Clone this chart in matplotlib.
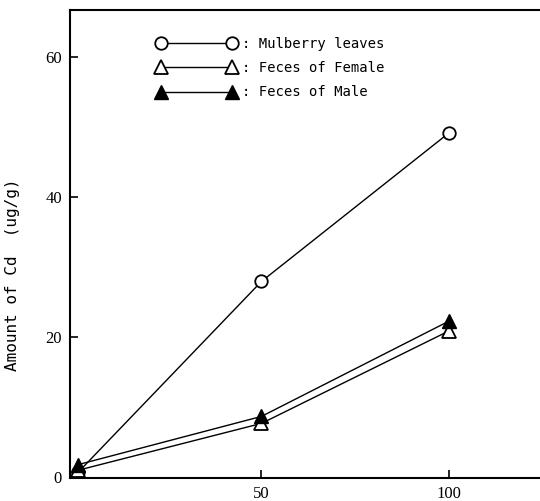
import matplotlib
matplotlib.use("Agg")
import matplotlib.pyplot as plt

dose = [1, 50, 100]
mulberry = [0.6, 27.9, 49.1]
feces_female = [0.9, 7.6, 20.8]
feces_male = [1.7, 8.6, 22.2]

labels = [": Mulberry leaves", ": Feces of Female", ": Feces of Male"]
yticks = [0, 20, 40, 60]
xticks = [50, 100]

fig = plt.figure(figsize=(5.4, 5.01), dpi=100)
ax = fig.add_axes([0.13, 0.046, 0.87, 0.934])

ax.plot(dose, mulberry, color="black", lw=1, marker="o", ms=9,
        mfc="white", mec="black", mew=1.3, label=labels[0])
ax.plot(dose, feces_female, color="black", lw=1, marker="^", ms=10,
        mfc="white", mec="black", mew=1.3, label=labels[1])
ax.plot(dose, feces_male, color="black", lw=1, marker="^", ms=10,
        mfc="black", mec="black", label=labels[2])

ax.set_xlim(-1.1, 124.4)
ax.set_ylim(-0.2, 66.7)
ax.set_xticks(xticks)
ax.set_yticks(yticks)
ax.tick_params(direction="in", length=6, width=1.2, labelsize=12, pad=6)
for lab in ax.get_xticklabels() + ax.get_yticklabels():
    lab.set_family("Liberation Serif")
ax.spines["right"].set_visible(False)
for s in ["left", "bottom", "top"]:
    ax.spines[s].set_linewidth(1.5)

fig.text(0.024, 1 - 275 / 501, "Amount of Cd  (ug/g)", rotation=90,
         ha="center", va="center", family="DejaVu Sans Mono", fontsize=11.5)

leg = ax.legend(loc="upper left", bbox_to_anchor=(0.158, 0.97), numpoints=2,
                handlelength=5.7, handletextpad=0.4, frameon=False,
                prop={"family": "DejaVu Sans Mono", "size": 10},
                labelspacing=0.75)

fig.savefig("out.png", dpi=100)
